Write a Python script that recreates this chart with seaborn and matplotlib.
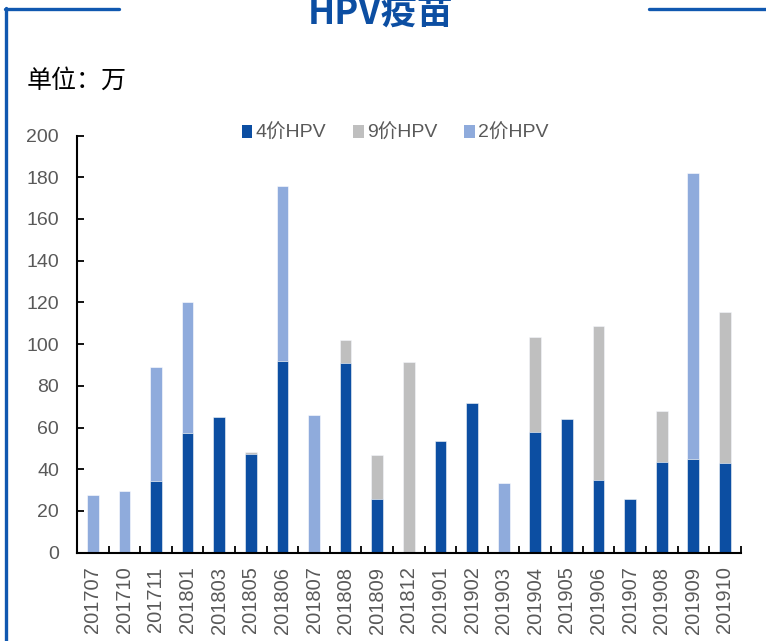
import numpy as np
import pandas as pd
import matplotlib
matplotlib.use("Agg")
import matplotlib.pyplot as plt
from matplotlib.lines import Line2D
from matplotlib.patches import Patch
import seaborn as sns

months = ["201707", "201710", "201711", "201801", "201803", "201805", "201806",
          "201807", "201808", "201809", "201812", "201901", "201902", "201903",
          "201904", "201905", "201906", "201907", "201908", "201909", "201910"]
hpv4 = [0, 0, 34.5, 57.5, 65.2, 47.2, 91.9, 0, 91.1, 25.9, 0, 53.7, 71.9, 0,
        57.9, 64.0, 34.7, 25.9, 43.5, 44.8, 42.9]
hpv9 = [0, 0, 0, 0, 0, 1.2, 0, 0, 10.7, 20.8, 91.4, 0, 0, 0,
        45.7, 0, 73.8, 0, 24.4, 0, 72.7]
hpv2 = [27.8, 29.7, 54.7, 62.9, 0, 0, 84.1, 66.2, 0, 0, 0, 0, 0, 33.3,
        0, 0, 0, 0, 0, 137.4, 0]
series_names = ["4价HPV", "9价HPV", "2价HPV"]
yticks = list(range(0, 201, 20))

c4, c9, c2 = "#0C4EA2", "#BFBFBF", "#8FABDC"
text_gray = "#595959"
frame_blue = "#1058B0"

df = pd.DataFrame({"month": months, "h4": hpv4, "h9": hpv9, "h2": hpv2})
df["s49"] = df["h4"] + df["h9"]
df["s492"] = df["s49"] + df["h2"]

sns.set_style("white")
plt.rcParams["font.family"] = ["Liberation Sans", "Noto Sans CJK SC", "DejaVu Sans"]

fig = plt.figure(figsize=(7.66, 6.41), dpi=100)
ax = fig.add_axes([0.1005, 0.1378, 0.8665, 0.6507])

w = 0.37
common = dict(data=df, x="month", order=months, width=w, ax=ax,
              edgecolor="white", linewidth=0.4, errorbar=None)
sns.barplot(y="s492", color=c2, saturation=1, **common)
sns.barplot(y="s49", color=c9, saturation=1, **common)
sns.barplot(y="h4", color=c4, saturation=1, **common)

ax.set_xlim(-0.5, len(months) - 0.5)
ax.set_ylim(0, 200)
ax.set_yticks(yticks)
ax.set_yticklabels([str(v) for v in yticks])
ax.set_xlabel("")
ax.set_ylabel("")

for s in ["top", "right"]:
    ax.spines[s].set_visible(False)
for s in ["left", "bottom"]:
    ax.spines[s].set_color("black")
    ax.spines[s].set_linewidth(1.5)

ax.tick_params(axis="y", direction="in", length=5, width=1.3, color="black",
               labelsize=14, labelcolor=text_gray, pad=13, left=True)
ax.set_xticks(range(len(months)))
ax.set_xticklabels(months, rotation=90)
ax.tick_params(axis="x", which="major", length=0, labelsize=14.5,
               labelcolor=text_gray, pad=10)
ax.set_xticks(np.arange(-0.5, len(months), 1), minor=True)
ax.tick_params(axis="x", which="minor", direction="in", length=5, width=1.3,
               color="black", bottom=True)
for lab in ax.get_xticklabels():
    lab.set_fontfamily(["Liberation Sans"])
for lab in ax.get_yticklabels():
    lab.set_fontfamily(["Liberation Sans"])

handles = [Patch(facecolor=c, edgecolor="none") for c in (c4, c9, c2)]
fig.legend(handles, series_names, loc="center", bbox_to_anchor=(395 / 766, 1 - 133 / 641),
           ncol=3, frameon=False, handlelength=0.55, handleheight=0.65,
           handletextpad=0.15, columnspacing=1.4,
           prop={"family": ["Liberation Sans", "Noto Sans CJK SC"], "size": 14},
           labelcolor=text_gray)

# decorative frame
W, H = 766, 641
fig.add_artist(Line2D([6 / W, 6 / W], [0, 1 - 7.5 / H], color=frame_blue, lw=2.4,
                      transform=fig.transFigure))
fig.add_artist(Line2D([5 / W, 119 / W], [1 - 8.5 / H, 1 - 8.5 / H], color=frame_blue,
                      lw=2.4, transform=fig.transFigure))
fig.add_artist(Line2D([649 / W, 1], [1 - 8.5 / H, 1 - 8.5 / H], color=frame_blue,
                      lw=2.4, transform=fig.transFigure))

fig.text(381 / W, 1 - 14 / H, "HPV疫苗", ha="center", va="center", fontsize=26,
         fontweight="bold", color="#0C4EA2", family=["Noto Sans CJK SC"])
fig.text(27 / W, 1 - 81 / H, "单位：万", ha="left", va="center", fontsize=18,
         color="black", family=["Noto Sans CJK SC"])

fig.savefig("out.png", dpi=100)
